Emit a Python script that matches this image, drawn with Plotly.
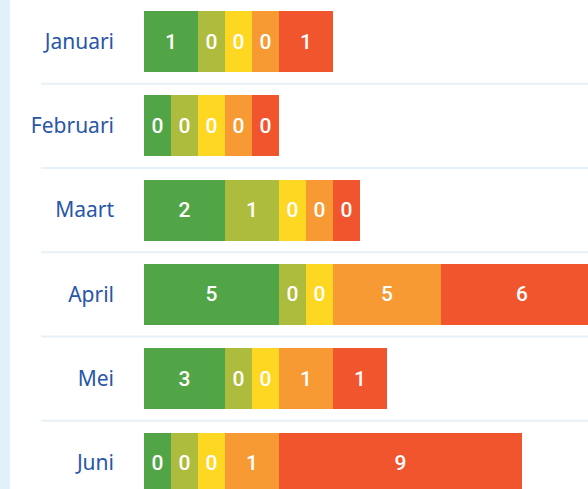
import plotly.graph_objects as go

months = ["Januari", "Februari", "Maart", "April", "Mei", "Juni"]
series_names = ["Zeer goed", "Goed", "Matig", "Slecht", "Zeer slecht"]
colors = ["#52a546", "#adbc3d", "#fdd721", "#f79a33", "#f0552e"]

# counts shown inside each segment
counts = [
    [1, 0, 2, 5, 3, 0],
    [0, 0, 1, 0, 0, 0],
    [0, 0, 0, 0, 0, 0],
    [0, 0, 0, 5, 1, 1],
    [1, 0, 0, 6, 1, 9],
]
# displayed segment lengths (zero counts keep a minimum width)
lengths = [
    [2, 1, 3, 5, 3, 1],
    [1, 1, 2, 1, 1, 1],
    [1, 1, 1, 1, 1, 1],
    [1, 1, 1, 4, 2, 2],
    [2, 1, 1, 6, 2, 9],
]

W, H = 588, 489
left = 144
unit = 27.0
row = 84.3
first_center = 41.5

fig = go.Figure()
ypos = list(range(len(months)))
for name, col, cnt, ln in zip(series_names, colors, counts, lengths):
    fig.add_trace(go.Bar(
        y=ypos, x=ln, orientation="h", name=name,
        marker=dict(color=col, line=dict(width=0)),
        text=[str(c) for c in cnt], textposition="inside",
        insidetextanchor="middle", textangle=0,
        textfont=dict(color="white", size=21, family="Roboto", weight=500),
        width=61 / row, hoverinfo="skip",
    ))

xmax = (W - left) / unit
ytop = -first_center / row
ybot = (H - first_center) / row

shapes = []
# light blue strip at the left edge
shapes.append(dict(type="rect", xref="paper", yref="paper",
                   x0=-left / (W - left), x1=(10 - left) / (W - left), y0=0, y1=1,
                   fillcolor="#e2f1f9", line=dict(width=0), layer="below"))
for i in range(len(months) - 1):
    shapes.append(dict(type="line", xref="paper", yref="y",
                       x0=(41 - left) / (W - left), x1=1, y0=i + 0.5, y1=i + 0.5,
                       line=dict(color="#e6f0f7", width=2), layer="below"))

fig.update_layout(
    width=W, height=H, barmode="stack", showlegend=False,
    margin=dict(l=left, r=0, t=0, b=0),
    paper_bgcolor="white", plot_bgcolor="white",
    uniformtext=dict(minsize=21, mode="show"),
    xaxis=dict(range=[0, xmax], visible=False, fixedrange=True),
    yaxis=dict(range=[ybot, ytop], tickmode="array", tickvals=ypos, ticktext=months,
               showgrid=False, zeroline=False, showline=False, ticks="",
               ticklabelstandoff=29, fixedrange=True,
               tickfont=dict(family="Noto Sans", size=21, color="#2856a8")),
    shapes=shapes,
)
fig.write_html("out.html", config={"displayModeBar": False},
               post_script="document.body.style.margin='0';document.body.style.overflow='hidden';")
